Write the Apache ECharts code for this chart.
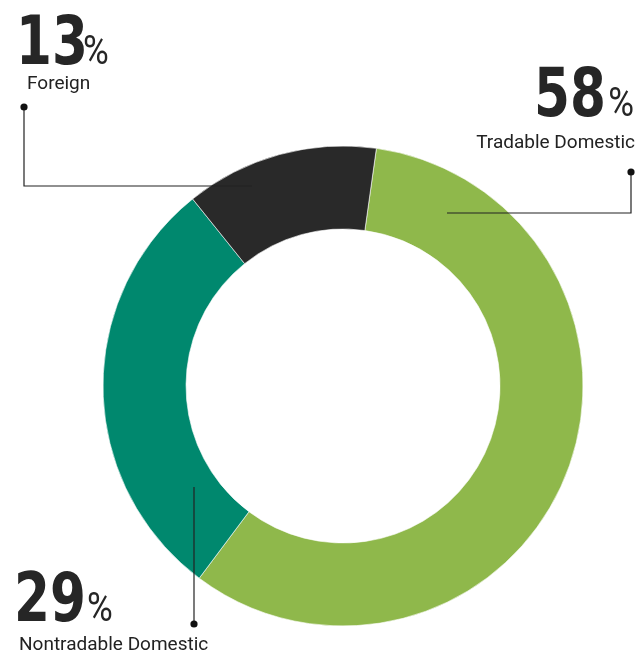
<!DOCTYPE html>
<html>
<head>
<meta charset="utf-8">
<script src="https://cdn.jsdelivr.net/npm/echarts@6/dist/echarts.min.js"></script>
<style>
  html, body { margin: 0; padding: 0; background: #fff; }
  #chart { width: 639px; height: 654px; }
</style>
</head>
<body>
<div id="chart"></div>
<script>
// data
var categories = ['Tradable Domestic', 'Nontradable Domestic', 'Foreign'];
var shares = [58, 29, 13];
var sliceColors = ['#8fb84b', '#00886e', '#292929'];

// label placement (annotation layer), same order as categories
var labelPos = [
  { numX: 606, pctX: 634, numY: 132, pctY: 126, nameX: 635, nameY: 153, align: 'right',
    line: [[631, 172], [631, 213], [447, 213]] },
  { numX: 14, pctX: 87, numY: 637, pctY: 631, nameX: 19, nameY: 655, align: 'left',
    line: [[194, 624], [194, 487]] },
  { numX: 16, pctX: 83, numY: 80, pctY: 74, nameX: 27, nameY: 94, align: 'left',
    line: [[24, 107], [24, 186], [252, 186]] }
];

var myChart = echarts.init(document.getElementById('chart'), null, { renderer: 'canvas' });

var graphics = [];
categories.forEach(function (name, i) {
  var p = labelPos[i];
  var right = p.align === 'right';
  graphics.push({
    type: 'polyline',
    shape: { points: p.line },
    style: { stroke: '#222', lineWidth: 1.2, fill: null },
    z: 10
  });
  graphics.push({
    type: 'circle',
    shape: { cx: p.line[0][0], cy: p.line[0][1], r: 3.6 },
    style: { fill: '#111' },
    z: 11
  });
  // big number
  graphics.push({
    type: 'text',
    x: p.numX,
    y: p.numY,
    scaleX: 0.76,
    style: {
      text: String(shares[i]),
      fill: '#262626',
      fontFamily: 'DejaVu Sans',
      fontWeight: 'bold',
      fontSize: 68,
      align: right ? 'right' : 'left',
      verticalAlign: 'bottom'
    }
  });
  // percent sign
  graphics.push({
    type: 'text',
    x: p.pctX,
    y: p.pctY,
    scaleX: 0.88,
    style: {
      text: '%',
      fill: '#262626',
      fontFamily: 'Roboto',
      fontSize: 40,
      align: right ? 'right' : 'left',
      verticalAlign: 'bottom'
    }
  });
  // category name
  graphics.push({
    type: 'text',
    x: p.nameX,
    y: p.nameY,
    style: {
      text: name,
      fill: '#222',
      fontFamily: 'Roboto',
      fontSize: 19,
      align: p.align,
      verticalAlign: 'bottom'
    }
  });
});

var option = {
  backgroundColor: '#ffffff',
  animation: false,
  series: [
    {
      type: 'pie',
      center: [343, 386],
      radius: [157, 240],
      startAngle: 82,
      clockwise: true,
      silent: true,
      itemStyle: { borderColor: '#ffffff', borderWidth: 0.6 },
      label: { show: false },
      labelLine: { show: false },
      data: categories.map(function (c, i) {
        return { name: c, value: shares[i], itemStyle: { color: sliceColors[i] } };
      })
    }
  ],
  graphic: graphics
};
myChart.setOption(option);
</script>
</body>
</html>
